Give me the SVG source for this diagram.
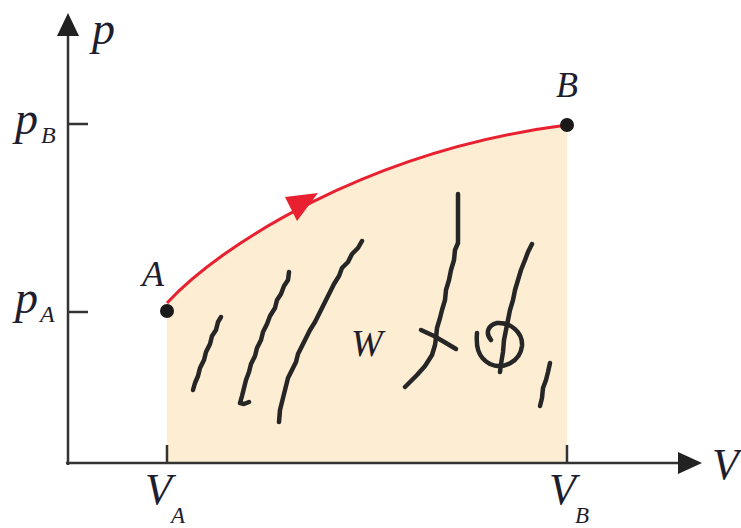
<svg xmlns="http://www.w3.org/2000/svg" width="741" height="528" viewBox="0 0 741 528">
<style>
.lbl{font-family:"Liberation Serif","Times New Roman",serif;font-style:italic;fill:#1e1e2e}
.ax{stroke:#333;stroke-width:2.5;fill:none}
.scr{stroke:#262626;stroke-width:4.5;fill:none;stroke-linecap:round;stroke-linejoin:round}
</style>
<rect width="741" height="528" fill="#fff"/>
<g id="area">
<path d="M167,303 C220,245 370,150 567,125 L567,463 L167,463 Z" fill="#FDEED3"/>
</g>
<g id="axes">
<line class="ax" x1="68" y1="465" x2="68" y2="30"/>
<polygon points="68,13 57,36 79,36" fill="#222"/>
<line class="ax" x1="66" y1="463" x2="682" y2="463"/>
<polygon points="702,463 678,452 678,474" fill="#222"/>
<line class="ax" x1="68" y1="124" x2="88" y2="124"/>
<line class="ax" x1="68" y1="312" x2="88" y2="312"/>
<line class="ax" x1="167" y1="445" x2="167" y2="463"/>
<line class="ax" x1="567" y1="445" x2="567" y2="463"/>
<text class="lbl" x="92" y="44" font-size="46">p</text>
<text class="lbl" x="15" y="134" font-size="46">p</text>
<text class="lbl" x="41" y="143" font-size="24">B</text>
<text class="lbl" x="15" y="313" font-size="46">p</text>
<text class="lbl" x="40" y="322" font-size="24">A</text>
<text class="lbl" x="145" y="504" font-size="44">V</text>
<text class="lbl" x="171" y="523" font-size="23">A</text>
<text class="lbl" x="549" y="504" font-size="44">V</text>
<text class="lbl" x="575" y="523" font-size="23">B</text>
<text class="lbl" x="712" y="479" font-size="44">V</text>
</g>
<g id="connectors">
<path d="M167,303 C220,245 370,150 567,125" fill="none" stroke="#E8202F" stroke-width="3"/>
<polygon points="285,197 297,221 318,193" fill="#E8202F"/>
</g>
<g id="node-A">
<circle cx="167" cy="311" r="7" fill="#1a1a1a"/>
<text class="lbl" x="142" y="286" font-size="36">A</text>
</g>
<g id="node-B">
<circle cx="567" cy="125" r="7" fill="#1a1a1a"/>
<text class="lbl" x="556" y="97" font-size="36">B</text>
</g>
<g id="scribbles">
<polyline class="scr" points="221,317 218,322 216,330 212,336 210,344 206,352 204,360 200,368 198,376 195,383 193,390"/>
<polyline class="scr" points="289,272 288,280 284,286 281,294 277,300 275,308 270,316 267,324 263,332 261,340 257,348 255,356 251,364 249,372 246,380 244,388 242,396 240,403 244,404 249,402"/>
<polyline class="scr" points="362,241 358,248 352,254 348,262 342,268 339,276 334,284 330,292 326,300 322,308 318,316 315,322 310,330 306,338 302,346 298,354 296,362 292,370 288,378 286,386 284,394 282,402 280,410 279,422"/>
<polyline class="scr" points="458,194 458,210 458,226 458,243 455,250 454,260 451,270 449,280 446,290 445,300 442,310 440,318 437,328 436,338 435,345 432,355 425,366 417,375 410,382 405,387"/>
<polyline class="scr" points="421,330 434,336 446,343 456,349"/>
<polyline class="scr" points="532,244 528,252 525,260 521,270 518,280 515,290 513,300 510,310 508,320 506,330 504,340 503,352 501,364 500,372"/>
<path class="scr" d="M477,333 C476,345 477,357 490,364 C503,370 520,362 522,346 C523,332 510,322 497,323 C488,325 485,333 491,340"/>
<polyline class="scr" points="550,363 548,372 546,380 543,388 542,398 540,406"/>
<text class="lbl" x="351" y="356" font-size="38">W</text>
</g>
</svg>
